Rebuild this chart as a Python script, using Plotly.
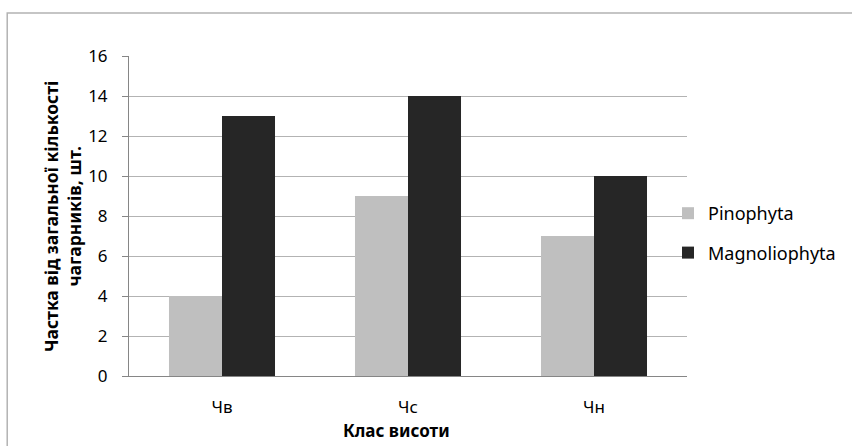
import plotly.graph_objects as go

categories = ["Чв", "Чс", "Чн"]
pinophyta = [4, 9, 7]
magnoliophyta = [13, 14, 10]
y_ticks = [0, 2, 4, 6, 8, 10, 12, 14, 16]

FONT = "Noto Sans"
W, H = 852, 446
L, R, T, B = 129, 164, 56, 70
pw, ph = W - L - R, H - T - B

fig = go.Figure()
fig.add_trace(go.Bar(x=categories, y=pinophyta, name="Pinophyta",
                     marker=dict(color="#bfbfbf", line=dict(width=0)),
                     legendgroup="a"))
fig.add_trace(go.Bar(x=categories, y=magnoliophyta, name="Magnoliophyta",
                     marker=dict(color="#262626", line=dict(width=0)),
                     legendgroup="b"))

def px_x(v):
    return (v - L) / pw

def px_y(v):
    return (H - B - v) / ph

fig.update_layout(
    width=W, height=H,
    margin=dict(l=L, r=R, t=T, b=B, pad=0),
    paper_bgcolor="white", plot_bgcolor="white",
    barmode="group", bargap=0.43, bargroupgap=0,
    font=dict(family=FONT, size=16, color="#000000"),
    showlegend=True,
    legend=dict(x=px_x(668), y=px_y(195), xanchor="left", yanchor="top",
                font=dict(family=FONT, size=18, color="#000"),
                traceorder="grouped", tracegroupgap=13,
                bgcolor="rgba(0,0,0,0)", itemwidth=30),
    xaxis=dict(showline=True, linecolor="#868686", linewidth=1,
               ticks="", showgrid=False, tickfont=dict(size=17),
               ticklabelstandoff=16, range=[-0.5, 2.5]),
    yaxis=dict(range=[0, 16], tickvals=y_ticks, showgrid=True,
               gridcolor="#b3b3b3", gridwidth=1, showline=True,
               linecolor="#868686", linewidth=1, ticks="outside",
               ticklen=6, tickcolor="#868686", tickfont=dict(size=17),
               ticklabelstandoff=11, zeroline=False),
    shapes=[dict(type="rect", xref="paper", yref="paper",
                 x0=px_x(7), y0=px_y(H + 20), x1=px_x(W + 20), y1=px_y(13),
                 line=dict(color="#b3b3b3", width=1.5), layer="below")],
    annotations=[
        dict(text="<b>Клас висоти</b>", xref="paper", yref="paper",
             x=px_x(397), y=px_y(430), showarrow=False,
             font=dict(size=17, family=FONT), xanchor="center", yanchor="middle"),
        dict(text="<b>Частка від загальної кількості<br>чагарників, шт.</b>",
             xref="paper", yref="paper", x=px_x(62), y=0.5, showarrow=False,
             textangle=-90, font=dict(size=17.5, family=FONT),
             xanchor="center", yanchor="middle"),
    ],
)
fig.write_html("out.html")
